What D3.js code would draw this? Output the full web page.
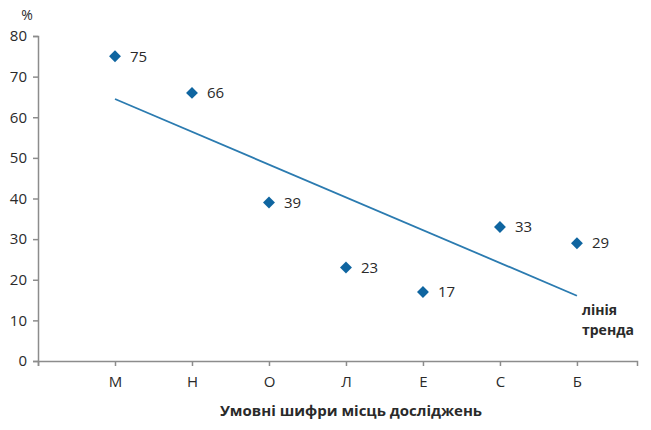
<!DOCTYPE html>
<html>
<head>
<meta charset="utf-8">
<script src="https://cdn.jsdelivr.net/npm/d3@7"></script>
<style>
  body { margin: 0; background: #fff; }
  svg text { font-family: "Open Sans", "Noto Sans", sans-serif; fill: #2a2a2a; }
</style>
</head>
<body>
<svg id="chart" width="651" height="430"></svg>
<script>
// Дані
var categories = ["М", "Н", "О", "Л", "Е", "С", "Б"];
var values = [75, 66, 39, 23, 17, 33, 29];
var yTicks = [0, 10, 20, 30, 40, 50, 60, 70, 80];

var svg = d3.select("#chart");

// Шкали
var x = d3.scaleLinear().domain([0, 7.78]).range([38, 637]);
var y = d3.scaleLinear().domain([0, 80]).range([361, 36]);

var axisColor = "#8c8c8c";

// Вісь Y
var yAxis = svg.append("g")
  .attr("transform", "translate(38,0)")
  .call(d3.axisLeft(y).tickValues(yTicks).tickSize(5).tickPadding(6));
yAxis.select(".domain").attr("stroke", axisColor).attr("stroke-width", 1.5);
yAxis.selectAll(".tick line").attr("stroke", axisColor).attr("stroke-width", 1.5);
yAxis.selectAll(".tick text").style("font-size", "15px").attr("fill", "#2a2a2a");

// Вісь X
var xAxis = svg.append("g")
  .attr("transform", "translate(0,361)")
  .call(d3.axisBottom(x)
    .tickValues(d3.range(0, categories.length + 1))
    .tickFormat(function (d) { return d === 0 ? "" : categories[d - 1]; })
    .tickSize(5).tickPadding(10));
xAxis.select(".domain").attr("stroke", axisColor).attr("stroke-width", 1.5);
xAxis.selectAll(".tick line").attr("stroke", axisColor).attr("stroke-width", 1.5);
xAxis.selectAll(".tick text").style("font-size", "15px").attr("fill", "#2a2a2a");

// Лінія тренда (лінійна регресія)
var xs = values.map(function (d, i) { return i + 1; });
var mx = d3.mean(xs), my = d3.mean(values);
var sxy = d3.sum(xs, function (d, i) { return (d - mx) * (values[i] - my); });
var sxx = d3.sum(xs, function (d) { return (d - mx) * (d - mx); });
var slope = sxy / sxx, intercept = my - slope * mx;

svg.append("line")
  .attr("x1", x(1)).attr("y1", y(intercept + slope * 1))
  .attr("x2", x(7)).attr("y2", y(intercept + slope * 7))
  .attr("stroke", "#2b7bb0")
  .attr("stroke-width", 1.8);

// Точки
var diamond = d3.symbol().type(d3.symbolDiamond2).size(90);
svg.selectAll(".pt")
  .data(values)
  .enter().append("path")
  .attr("class", "pt")
  .attr("d", diamond)
  .attr("transform", function (d, i) { return "translate(" + x(i + 1) + "," + y(d) + ")"; })
  .attr("fill", "#0f65a0");

// Підписи значень
svg.selectAll(".lbl")
  .data(values)
  .enter().append("text")
  .attr("class", "lbl")
  .attr("x", function (d, i) { return x(i + 1) + 15; })
  .attr("y", function (d) { return y(d); })
  .attr("dy", "0.35em")
  .style("font-size", "15px")
  .text(function (d) { return d; });

// Підписи
svg.append("text")
  .attr("x", 27).attr("y", 20)
  .attr("text-anchor", "middle")
  .style("font-size", "14px")
  .text("%");

svg.append("text")
  .attr("x", 351).attr("y", 416)
  .attr("text-anchor", "middle")
  .style("font-size", "15px")
  .style("font-weight", "bold")
  .text("Умовні шифри місць досліджень");

svg.append("text")
  .attr("x", 582).attr("y", 315)
  .style("font-size", "14px")
  .style("font-weight", "bold")
  .text("лінія");
svg.append("text")
  .attr("x", 582).attr("y", 335)
  .style("font-size", "14px")
  .style("font-weight", "bold")
  .text("тренда");
</script>
</body>
</html>
